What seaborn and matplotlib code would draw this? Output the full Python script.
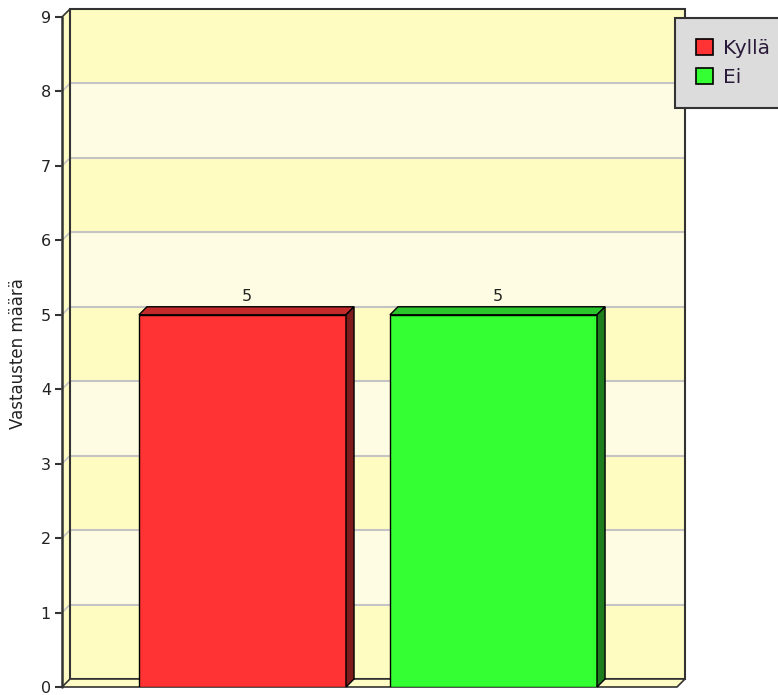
import matplotlib
matplotlib.use("Agg")
import matplotlib.pyplot as plt
from matplotlib.patches import Polygon, Patch
from matplotlib.lines import Line2D
from matplotlib.transforms import IdentityTransform
import seaborn as sns
import pandas as pd

# Survey answers
categories = ["Kyllä", "Ei"]
counts = [5, 5]
y_ticks = list(range(0, 10))
y_label = "Vastausten määrä"

face_colors = ["#FF3333", "#33FF33"]
top_colors = ["#C42A2A", "#2BC62B"]
side_colors = ["#7E1C1C", "#1E7E1E"]

band_dark = "#FFFCC2"
band_light = "#FEFCE2"
wall_side = "#FFFBC4"
edge = "#333333"
DEPTH = 8  # pixel depth of the pseudo-3D effect

sns.set_theme(style="white")
plt.rcParams["font.family"] = ["DejaVu Sans"]

W, H = 778, 695
fig = plt.figure(figsize=(W / 100, H / 100), dpi=100)
ax = fig.add_axes([62 / W, (H - 687) / H, (677 - 62) / W, (687 - 17) / H])
ax.set_facecolor("none")

xmin, xmax = -0.719, 1.731
ymin, ymax = 0, 9
ax.set_xlim(xmin, xmax)
ax.set_ylim(ymin, ymax)

df = pd.DataFrame({"answer": categories, "count": counts})
sns.barplot(data=df, x="answer", y="count", hue="answer", palette=face_colors,
            saturation=1, width=0.825, edgecolor="black", linewidth=1.0,
            legend=False, ax=ax, zorder=5)
ax.set_xlim(xmin, xmax)
ax.set_ylim(ymin, ymax)

fig.canvas.draw()


def P(x, y, back=False):
    px, py = ax.transData.transform((x, y))
    if back:
        px += DEPTH
        py += DEPTH
    return (px, py)


def poly(points, fc, ec=edge, lw=1.2, z=1):
    ax.add_patch(Polygon(points, closed=True, facecolor=fc, edgecolor=ec,
                         linewidth=lw, transform=IdentityTransform(),
                         zorder=z, clip_on=False))


def seg(p0, p1, color, lw, z=2):
    ax.add_line(Line2D([p0[0], p1[0]], [p0[1], p1[1]], color=color,
                       linewidth=lw, transform=IdentityTransform(),
                       zorder=z, clip_on=False))


# back wall with alternating bands
for i in range(ymin, ymax):
    fc = band_dark if i % 2 == 0 else band_light
    poly([P(xmin, i, True), P(xmax, i, True), P(xmax, i + 1, True),
          P(xmin, i + 1, True)], fc, ec="none", lw=0, z=0.5)

# left side wall
poly([P(xmin, ymin), P(xmin, ymax), P(xmin, ymax, True), P(xmin, ymin, True)],
     wall_side, ec="none", lw=0, z=0.6)

# grid lines on back and side walls
for t in y_ticks[1:-1]:
    seg(P(xmin, t, True), P(xmax, t, True), "#C4C4C4", 1.5, z=0.8)
    seg(P(xmin, t), P(xmin, t, True), "#C4C4C4", 1.2, z=0.8)

# wall outline
poly([P(xmin, ymin, True), P(xmax, ymin, True), P(xmax, ymax, True),
      P(xmin, ymax, True)], "none", ec=edge, lw=1.5, z=0.9)
seg(P(xmin, ymax), P(xmin, ymax, True), edge, 1.2, z=0.9)

# floor
poly([P(xmin, 0), P(xmax, 0), P(xmax, 0, True), P(xmin, 0, True)],
     wall_side, ec=edge, lw=1.2, z=0.95)

# front axis line
seg(P(xmin, ymin), P(xmin, ymax), edge, 1.8, z=3)

# bar depth faces and value labels
for patch, top_c, side_c, val in zip(ax.patches, top_colors, side_colors, counts):
    x0 = patch.get_x()
    x1 = x0 + patch.get_width()
    h = patch.get_height()
    poly([P(x0, h), P(x1, h), P(x1, h, True), P(x0, h, True)], top_c,
         ec="black", lw=1.0, z=6)
    poly([P(x1, 0), P(x1, h), P(x1, h, True), P(x1, 0, True)], side_c,
         ec="black", lw=1.0, z=6)
    ax.annotate(f"{val:g}", xy=((x0 + x1) / 2, h), xytext=(DEPTH / 2, DEPTH + 3),
                textcoords="offset pixels", ha="center", va="bottom",
                fontsize=11.5, color="#222222", zorder=7,
                annotation_clip=False)

for s in ax.spines.values():
    s.set_visible(False)
ax.set_xticks([])
ax.set_xlabel("")
ax.set_ylabel("")
ax.set_yticks(y_ticks)
ax.set_yticklabels([str(t) for t in y_ticks])
ax.tick_params(axis="y", left=True, length=5, width=1.5, color=edge,
               labelsize=11.5, labelcolor="#222222", pad=3)

fig.text(18 / W, 1 - 354 / H, y_label, rotation=90, ha="center", va="center",
         fontsize=12, color="#222222")

handles = [Patch(facecolor=c, edgecolor="black", linewidth=1.2) for c in face_colors]
leg = fig.legend(handles, categories, loc="upper left",
                 bbox_to_anchor=(675 / W, 1 - 18 / H), fontsize=14.5,
                 frameon=True, fancybox=False, borderpad=1.05,
                 handlelength=0.85, handleheight=0.85, handletextpad=0.5,
                 labelspacing=0.5, borderaxespad=0)
frame = leg.get_frame()
frame.set_facecolor("#DCDCDC")
frame.set_edgecolor(edge)
frame.set_linewidth(1.5)
frame.set_alpha(1)
leg.set_zorder(10)
for txt in leg.get_texts():
    txt.set_color("#2A1A3A")

fig.savefig("out.png", dpi=100)
